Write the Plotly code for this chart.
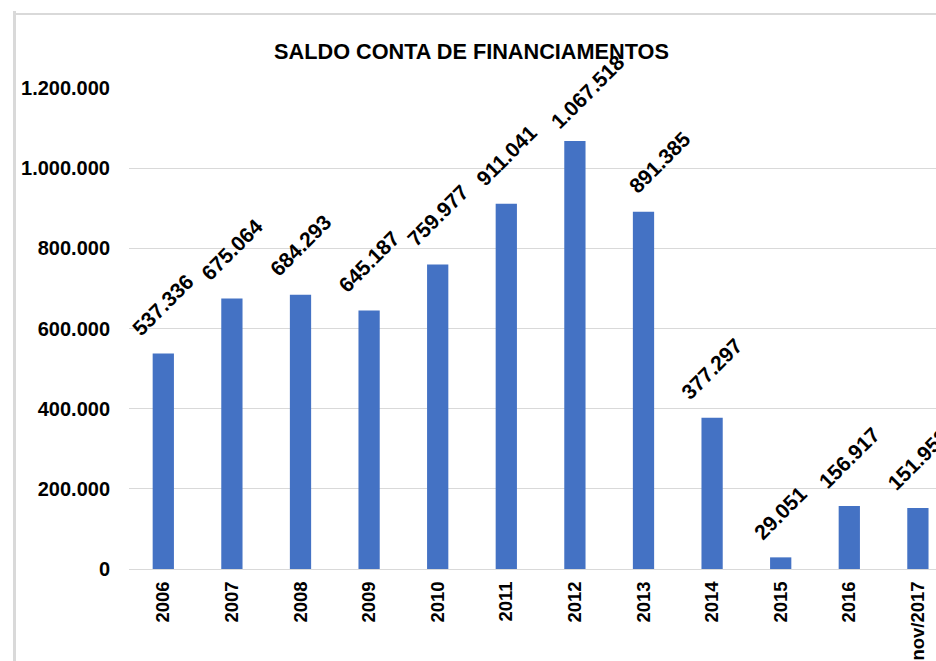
import plotly.graph_objects as go

categories = ["2006", "2007", "2008", "2009", "2010", "2011", "2012", "2013",
              "2014", "2015", "2016", "nov/2017"]
values = [537336, 675064, 684293, 645187, 759977, 911041, 1067518, 891385,
          377297, 29051, 156917, 151952]
y_ticks = [0, 200000, 400000, 600000, 800000, 1000000, 1200000]
title_text = "SALDO CONTA DE FINANCIAMENTOS"

# small nudges of individual data labels (as placed in the original)
label_dx = {6: 13, 7: 16}
label_dy = {6: -6}


def fmt(v):
    return f"{v:,}".replace(",", ".")


W, H = 936, 661
FONT = "Liberation Sans"

fig = go.Figure()
fig.add_trace(go.Bar(
    x=categories, y=values,
    marker=dict(color="#4472c4", line=dict(width=0)),
    hoverinfo="skip",
))

annotations = []
for i, v in enumerate(values):
    annotations.append(dict(
        x=i, y=v, xref="x", yref="y",
        text="<b>" + fmt(v) + "</b>",
        textangle=-45, showarrow=False,
        xanchor="center", yanchor="bottom",
        xshift=label_dx.get(i, 0), yshift=11 + label_dy.get(i, 0),
        font=dict(family=FONT, size=21, color="#000000"),
    ))

L, T, B = 129, 88, 92
plot_w = W - L
cat_px = 68.6

fig.update_layout(
    width=W, height=H,
    margin=dict(l=L, r=0, t=T, b=B, pad=0, autoexpand=False),
    paper_bgcolor="white", plot_bgcolor="white",
    separators=",.",
    showlegend=False,
    bargap=0.69,
    title=dict(
        text="<b>" + title_text + "</b>",
        x=471.5 / W, xref="container", xanchor="center",
        y=1 - 51 / H, yref="container", yanchor="middle",
        font=dict(family=FONT, size=21.7, color="#000000"),
        automargin=False,
    ),
    xaxis=dict(
        type="category",
        range=[-0.5, -0.5 + plot_w / cat_px],
        tickangle=-90,
        tickfont=dict(family=FONT, size=18.5, color="#000000", weight="bold"),
        showgrid=False, ticks="", showline=True, linecolor="#d9d9d9", linewidth=1,
        ticklabelstandoff=4, automargin=False,
    ),
    yaxis=dict(
        range=[0, 1200000],
        tickvals=y_ticks,
        ticktext=[fmt(t) for t in y_ticks],
        tickfont=dict(family=FONT, size=20, color="#000000", weight="bold"),
        showgrid=True, gridcolor="#d9d9d9", gridwidth=1,
        zeroline=False, ticks="", showline=False,
        ticklabelstandoff=18, automargin=False,
    ),
    annotations=annotations,
    shapes=[
        dict(type="line", xref="paper", yref="paper",
             x0=(14.5 - L) / plot_w, x1=(14.5 - L) / plot_w,
             y0=(H - B - 11) / (H - T - B), y1=(H - B - H) / (H - T - B),
             line=dict(color="#d9d9d9", width=3)),
        dict(type="line", xref="paper", yref="paper",
             x0=(16 - L) / plot_w, x1=(W + 5 - L) / plot_w,
             y0=(H - B - 14) / (H - T - B), y1=(H - B - 14) / (H - T - B),
             line=dict(color="#d9d9d9", width=2)),
    ],
)

fig.write_html("out.html", config={"displayModeBar": False},
               post_script="document.body.style.margin='0';document.body.style.overflow='hidden';")
